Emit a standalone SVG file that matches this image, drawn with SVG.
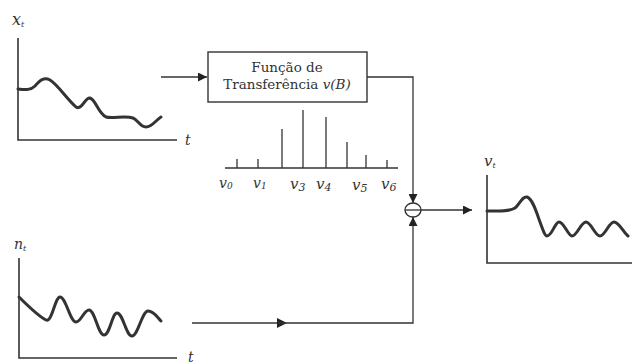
<svg xmlns="http://www.w3.org/2000/svg" width="632" height="364" viewBox="0 0 632 364">
<defs>
<marker id="arr" viewBox="0 0 10 10" refX="10" refY="5" markerWidth="9" markerHeight="9" markerUnits="userSpaceOnUse" orient="auto"><path d="M0,0 L10,5 L0,10 z" fill="#222"/></marker>
<marker id="arrm" viewBox="0 0 10 10" refX="5" refY="5" markerWidth="10" markerHeight="10" markerUnits="userSpaceOnUse" orient="auto"><path d="M0,0 L10,5 L0,10 z" fill="#222"/></marker>
</defs>
<style>
.ax{fill:none;stroke:#333;stroke-width:1.6}
.sig{fill:none;stroke:#333;stroke-width:3;stroke-linecap:round;stroke-linejoin:round}
.ln{fill:none;stroke:#333;stroke-width:1.3}
.stem{stroke:#333;stroke-width:1.3}
text{font-family:'DejaVu Serif','Liberation Serif',serif;fill:#333}
.it{font-style:italic}
</style>
<rect width="632" height="364" fill="#fff"/>

<g id="graph-x">
<path class="ax" d="M18,38 V140 H177"/>
<text class="it" x="12" y="25" font-size="16">x<tspan font-size="8" dy="2">t</tspan></text>
<text class="it" x="185" y="145" font-size="14">t</text>
<path class="sig" d="M18,89 C26,90 31,90 35,86 C40,80 44,77 50,80 C58,85 66,98 76,107 C82,111 85,97 90,98 C96,100 98,113 106,117 C113,119 125,115 133,118 C138,120 140,127 146,127 C152,127 156,120 161,117"/>
</g>

<g id="transfer">
<rect x="208" y="52" width="159" height="50" fill="#fff" stroke="#333" stroke-width="1.4"/>
<text x="287" y="72" font-size="13.5" text-anchor="middle">Função de</text>
<text x="287" y="89" font-size="13.5" text-anchor="middle">Transferência <tspan font-style="italic">v(B)</tspan></text>
</g>

<g id="stems">
<line class="ax" x1="225" y1="168" x2="398" y2="168"/>
<line class="stem" x1="237" y1="168" x2="237" y2="159"/>
<line class="stem" x1="258" y1="168" x2="258" y2="159"/>
<line class="stem" x1="282" y1="168" x2="282" y2="129"/>
<line class="stem" x1="303" y1="168" x2="303" y2="110"/>
<line class="stem" x1="326" y1="168" x2="326" y2="117"/>
<line class="stem" x1="347" y1="168" x2="347" y2="142"/>
<line class="stem" x1="366" y1="168" x2="366" y2="155"/>
<line class="stem" x1="387" y1="168" x2="387" y2="160"/>
<text class="it" x="219" y="188" font-size="14">v<tspan font-size="9" dy="1">0</tspan></text>
<text class="it" x="253" y="188" font-size="14">v<tspan font-size="9" dy="1">1</tspan></text>
<text class="it" x="290" y="189" font-size="15">v<tspan font-size="11" dy="2">3</tspan></text>
<text class="it" x="316" y="189" font-size="15">v<tspan font-size="11" dy="2">4</tspan></text>
<text class="it" x="352" y="190" font-size="15">v<tspan font-size="11" dy="2">5</tspan></text>
<text class="it" x="381" y="189" font-size="15">v<tspan font-size="11" dy="2">6</tspan></text>
</g>

<g id="sum">
<ellipse cx="413" cy="210" rx="8" ry="7" fill="#fff" stroke="#333" stroke-width="1.4"/>
<line class="ln" x1="405" y1="210" x2="421" y2="210"/>
</g>

<g id="graph-n">
<path class="ax" d="M19,258 V358 H177"/>
<text class="it" x="14" y="249" font-size="14">n<tspan font-size="8" dy="2">t</tspan></text>
<text class="it" x="188" y="362" font-size="14">t</text>
<path class="sig" d="M19,297 C28,306 38,316 46,320 C52,323 55,297 60,297 C66,297 70,322 76,322 C81,322 84,310 89,310 C95,310 98,335 104,335 C110,335 112,313 117,313 C123,313 126,336 132,336 C138,336 142,311 148,311 C154,311 158,318 161,321"/>
</g>

<g id="graph-v">
<path class="ax" d="M487,175 V263 H632"/>
<text class="it" x="484" y="166" font-size="15">v<tspan font-size="8" dy="2">t</tspan></text>
<path class="sig" d="M487,211 C498,211 508,212 515,208 C520,204 522,196 527,197 C533,199 537,214 540,222 C543,230 545,236 547,236 C552,236 555,222 559,222 C564,222 568,236 572,236 C577,236 581,222 586,222 C591,222 595,236 600,236 C605,236 609,222 614,222 C619,222 623,232 628,236"/>
</g>

<g id="connectors">
<line class="ln" x1="161" y1="77" x2="207" y2="77" marker-end="url(#arr)"/>
<polyline class="ln" points="367,77 413,77 413,203" marker-end="url(#arr)"/>
<polyline class="ln" points="192,323 282,323" marker-end="url(#arrm)"/>
<polyline class="ln" points="278,323 413,323 413,217" marker-end="url(#arr)"/>
<line class="ln" x1="421" y1="210" x2="472" y2="210" marker-end="url(#arr)"/>
</g>
</svg>
